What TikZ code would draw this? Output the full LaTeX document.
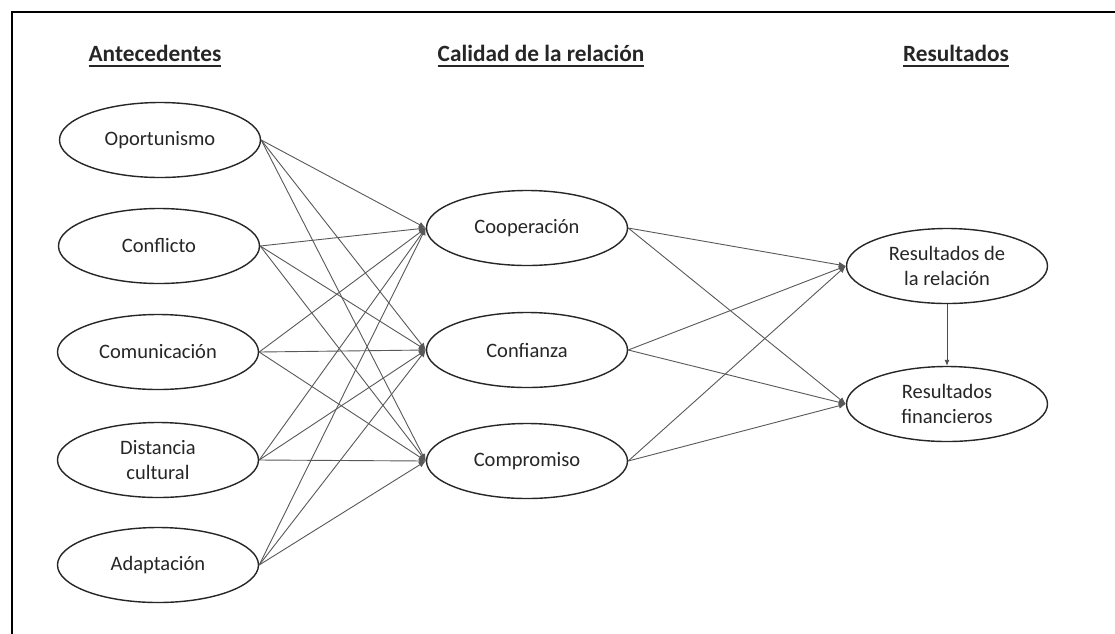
\documentclass[tikz,border=0pt]{standalone}
\usepackage{fontspec}
\setmainfont{Carlito}
\usetikzlibrary{shapes.geometric,arrows.meta}

% underlined heading text with a heavier rule than \underline gives
\newcommand\headul[1]{\leavevmode\setbox0=\hbox{#1}\rlap{\copy0}\rule[-5pt]{\wd0}{1.8pt}}

\tikzset{
  construct/.style={ellipse, draw=black!85, line width=1.4pt, fill=white,
    minimum width=201pt, minimum height=75pt, inner sep=0pt,
    font=\fontsize{20.5}{25}\selectfont, text=black!85, align=center},
  header/.style={font=\fontsize{23.3}{27}\selectfont\bfseries, text=black!85},
  path/.style={draw=black!65, line width=0.9pt,
    -{Latex[length=7pt,width=6pt]}},
  down/.style={draw=black!70, line width=0.9pt,
    -{Latex[length=6pt,width=5pt]}}
}

\begin{document}
\begin{tikzpicture}[x=1pt,y=-1pt]
\useasboundingbox[fill=white] (0,0) rectangle (1115,633);

% open frame: only the top and left rules fall inside the page
\draw[line width=2.4pt, black] (12,700) -- (12,12) -- (1200,12);

% column headings
\node[header] (hA) at (155,56) {\headul{Antecedentes}};
\node[header] (hC) at (541,56) {\headul{Calidad de la relación}};
\node[header] (hR) at (956,56) {\headul{Resultados}};

% antecedents
\node[construct] (opo) at (160,140) {Oportunismo};
\node[construct] (con) at (159,246) {Conflicto};
\node[construct] (com) at (158,352) {Comunicación};
\node[construct] (dis) at (158,460) {Distancia\\cultural};
\node[construct] (ada) at (158,565) {Adaptación};

% relationship quality
\node[construct] (coo) at (527,228) {Cooperación};
\node[construct] (cnf) at (527,350) {Confianza};
\node[construct] (cmp) at (527,461) {Compromiso};

% outcomes
\node[construct] (rel) at (947,266) {Resultados de\\la relación};
\node[construct] (fin) at (947,404) {Resultados\\financieros};

% antecedents -> relationship quality
\foreach \a in {opo,con,com,dis,ada}
  \foreach \b in {coo,cnf,cmp}
    \draw[path] (\a.east) -- (\b.west);

% relationship quality -> outcomes
\foreach \b in {coo,cnf,cmp}
  \foreach \c in {rel,fin}
    \draw[path] (\b.east) -- (\c.west);

\draw[down] (rel.south) -- (fin.north);
\end{tikzpicture}
\end{document}
